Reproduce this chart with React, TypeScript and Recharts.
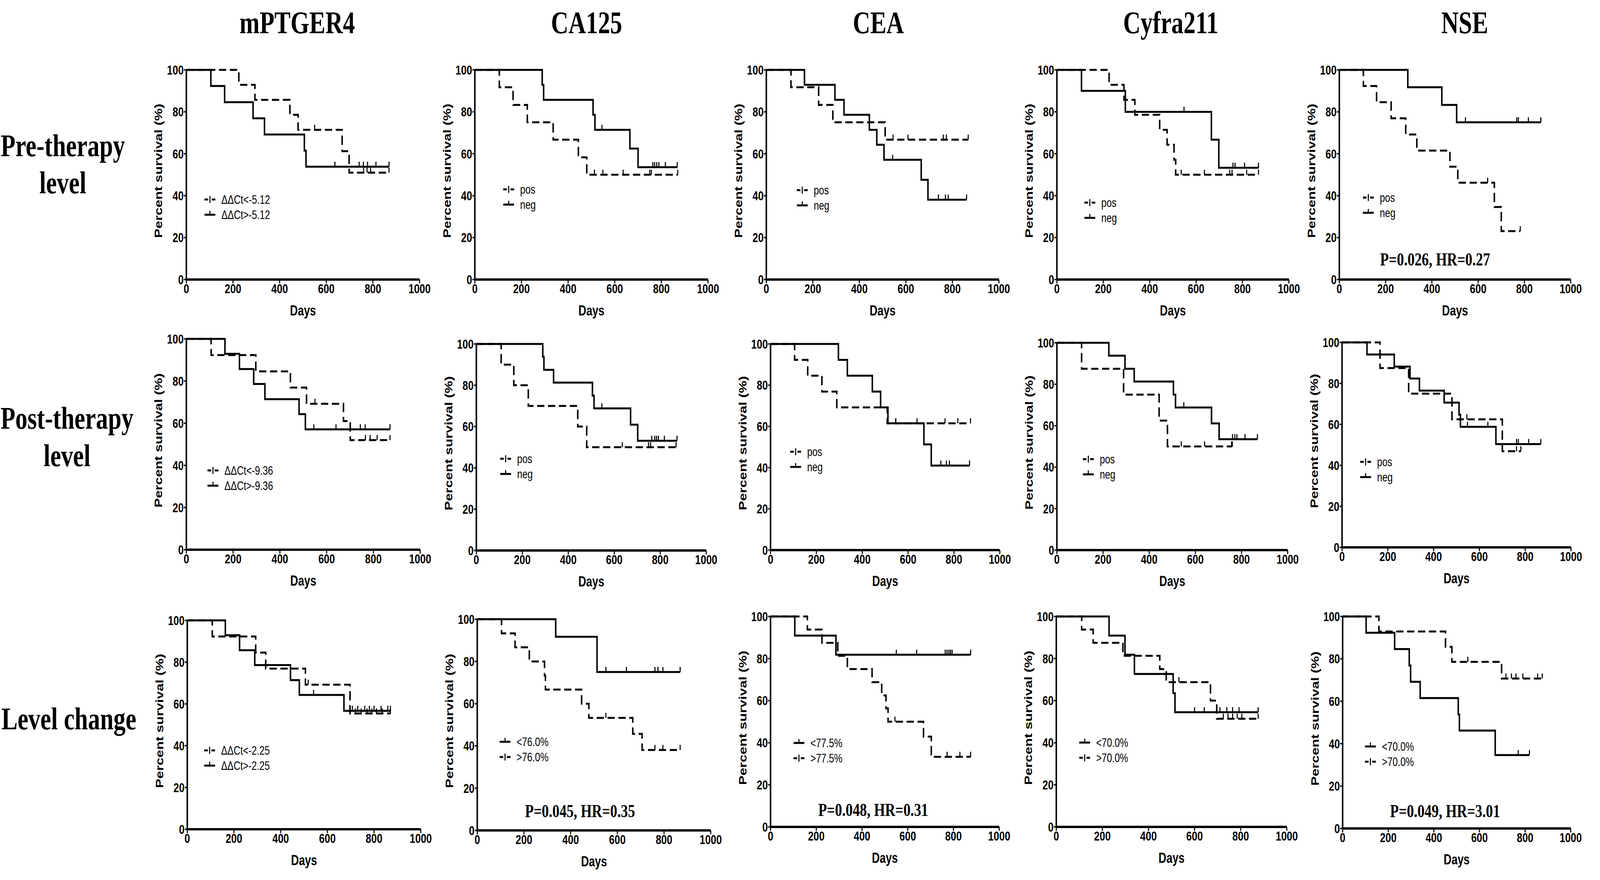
import React from 'react';
import { ComposedChart, Line, XAxis, YAxis, Label, Legend, ReferenceDot } from 'recharts';

// ---------- labels ----------
const markers = ['mPTGER4', 'CA125', 'CEA', 'Cyfra211', 'NSE'];
const rowLabels = [['Pre-therapy', 'level'], ['Post-therapy', 'level'], ['Level change']];
const xTicks = [0, 200, 400, 600, 800, 1000];
const yTicks = [0, 20, 40, 60, 80, 100];
const xTitle = 'Days';
const yTitle = 'Percent survival (%)';

// legend labels
const preM_labels = ['ΔΔCt<-5.12', 'ΔΔCt>-5.12'];
const postM_labels = ['ΔΔCt<-9.36', 'ΔΔCt>-9.36'];
const chgM_labels = ['ΔΔCt<-2.25', 'ΔΔCt>-2.25'];
const posneg_labels = ['pos', 'neg'];
const chgCA125_labels = ['<76.0%', '>76.0%'];
const chgCEA_labels = ['<77.5%', '>77.5%'];
const chgCyfra_labels = ['<70.0%', '>70.0%'];
const chgNSE_labels = ['<70.0%', '>70.0%'];

const pTexts = ['P=0.026, HR=0.27', 'P=0.045, HR=0.35', 'P=0.048, HR=0.31', 'P=0.049, HR=3.01'];

// ---------- survival curves: [days, survival%] events, [days, survival%, 1] censored ----------
// Row 1: pre-therapy
const preM_dash = [[225, 92.9], [294, 85.7], [444, 78.6], [479, 71.4], [550, 71.4, 1], [668, 61.2], [698, 51.0], [760, 51, 1], [775, 51, 1], [790, 51, 1], [869, 51, 1]];
const preM_solid = [[105, 92.3], [164, 84.6], [286, 76.9], [335, 69.2], [506, 61.5], [513, 53.8], [637, 53.8, 1], [741, 53.8, 1], [759, 53.8, 1], [777, 53.8, 1], [813, 53.8, 1], [869, 53.8, 1]];
const preCA_dash = [[105, 91.7], [164, 83.3], [225, 75.0], [336, 66.7], [444, 58.3], [480, 50.0], [513, 50, 1], [549, 50, 1], [636, 50, 1], [750, 50, 1], [757, 50, 1], [870, 50, 1]];
const preCA_solid = [[289, 92.9], [295, 85.7], [507, 78.6], [515, 71.4], [545, 71.4, 1], [665, 62.5], [700, 53.6], [763, 53.6, 1], [771, 53.6, 1], [780, 53.6, 1], [789, 53.6, 1], [817, 53.6, 1], [868, 53.6, 1]];
const preCEA_dash = [[106, 91.7], [225, 83.3], [286, 75.0], [511, 66.7], [545, 66.7, 1], [609, 66.7, 1], [761, 66.7, 1], [774, 66.7, 1], [868, 66.7, 1]];
const preCEA_solid = [[164, 92.9], [295, 85.7], [334, 78.6], [443, 71.4], [475, 64.3], [506, 57.1], [543, 57.1, 1], [666, 47.6], [695, 38.1], [740, 38.1, 1], [770, 38.1, 1], [782, 38.1, 1], [861, 38.1, 1]];
const preCy_dash = [[225, 92.9], [289, 85.7], [336, 78.6], [443, 71.4], [475, 64.3], [505, 57.1], [512, 50.0], [536, 50, 1], [636, 50, 1], [745, 50, 1], [755, 50, 1], [818, 50, 1], [869, 50, 1]];
const preCy_solid = [[106, 90], [295, 80], [548, 80, 1], [666, 66.7], [698, 53.3], [759, 53.3, 1], [768, 53.3, 1], [809, 53.3, 1], [869, 53.3, 1]];
const preNSE_dash = [[104, 92.3], [161, 84.6], [224, 76.9], [287, 69.2], [335, 61.5], [478, 53.8], [512, 46.2], [641, 46.2, 1], [670, 34.6], [700, 23.1], [782, 23.1, 1]];
const preNSE_solid = [[296, 91.7], [443, 83.3], [507, 75.0], [545, 75, 1], [767, 75, 1], [774, 75, 1], [817, 75, 1], [871, 75, 1]];

// Row 2: post-therapy
const postM_dash = [[106, 92.3], [297, 84.6], [445, 76.9], [514, 69.2], [550, 69.2, 1], [672, 61.0], [701, 52.0], [766, 52, 1], [786, 52, 1], [816, 52, 1], [871, 52, 1]];
const postM_solid = [[165, 92.9], [227, 85.7], [288, 78.6], [336, 71.4], [482, 64.3], [509, 57.1], [545, 57.1, 1], [640, 57.1, 1], [744, 57.1, 1], [765, 57.1, 1], [871, 57.1, 1]];
const postCA_dash = [[108, 90], [163, 80], [226, 70], [441, 60], [480, 50], [635, 50, 1], [749, 50, 1], [758, 50, 1], [869, 50, 1]];
const postCA_solid = [[289, 93.8], [294, 87.5], [336, 81.3], [505, 75], [512, 68.8], [546, 68.8, 1], [671, 60.9], [702, 53.1], [763, 53.1, 1], [776, 53.1, 1], [784, 53.1, 1], [792, 53.1, 1], [818, 53.1, 1], [873, 53.1, 1]];
const postCEA_dash = [[105, 92.3], [162, 84.6], [224, 76.9], [289, 69.2], [509, 61.5], [546, 61.5, 1], [761, 61.5, 1], [817, 61.5, 1], [872, 61.5, 1]];
const postCEA_solid = [[296, 92.3], [335, 84.6], [444, 76.9], [480, 69.2], [512, 61.5], [546, 61.5, 1], [639, 61.5, 1], [669, 51.3], [701, 41.0], [743, 41, 1], [767, 41, 1], [780, 41, 1], [868, 41, 1]];
const postCy_dash = [[107, 87.5], [289, 75], [443, 62.5], [479, 50], [539, 50, 1], [640, 50, 1], [757, 50, 1], [760, 50, 1]];
const postCy_solid = [[225, 93.8], [295, 87.5], [335, 81.3], [505, 75], [514, 68.8], [550, 68.8, 1], [670, 61.1], [703, 53.5], [761, 53.5, 1], [771, 53.5, 1], [780, 53.5, 1], [815, 53.5, 1], [869, 53.5, 1]];
const postNSE_dash = [[166, 87.5], [291, 75], [480, 62.5], [545, 62.5, 1], [700, 46.9], [762, 46.9, 1], [781, 46.9, 1]];
const postNSE_solid = [[109, 94.1], [228, 88.2], [297, 82.4], [338, 76.5], [446, 70.6], [511, 64.7], [517, 58.8], [548, 58.8, 1], [637, 58.8, 1], [672, 50.4], [762, 50.4, 1], [770, 50.4, 1], [815, 50.4, 1], [868, 50.4, 1]];

// Row 3: level change
const chgM_dash = [[107, 92.3], [293, 84.6], [336, 76.9], [506, 69.2], [518, 69.2, 1], [697, 55.4], [720, 55.4, 1], [745, 55.4, 1], [770, 55.4, 1], [790, 55.4, 1], [810, 55.4, 1], [835, 55.4, 1], [870, 55.4, 1]];
const chgM_solid = [[163, 92.9], [224, 85.7], [289, 78.6], [442, 71.4], [480, 64.3], [541, 64.3, 1], [671, 56.7], [707, 56.7, 1], [730, 56.7, 1], [760, 56.7, 1], [780, 56.7, 1], [800, 56.7, 1], [830, 56.7, 1], [859, 56.7, 1], [870, 56.7, 1]];
const chgCA_solid = [[336, 91.7], [513, 75], [551, 75, 1], [639, 75, 1], [761, 75, 1], [774, 75, 1], [795, 75, 1], [869, 75, 1]];
const chgCA_dash = [[104, 93.3], [162, 86.7], [223, 80], [288, 73.3], [292, 66.7], [447, 60], [478, 53.3], [551, 53.3, 1], [666, 45.7], [706, 38.1], [761, 38.1, 1], [795, 38.1, 1], [869, 38.1, 1]];
const chgCEA_solid = [[106, 90.9], [286, 81.8], [550, 81.8, 1], [639, 81.8, 1], [764, 81.8, 1], [772, 81.8, 1], [780, 81.8, 1], [787, 81.8, 1], [794, 81.8, 1], [875, 81.8, 1]];
const chgCEA_dash = [[161, 93.8], [225, 87.5], [294, 81.3], [336, 75], [444, 68.8], [486, 62.5], [505, 56.3], [514, 50], [544, 50, 1], [669, 42.9], [703, 33.3], [772, 33.3, 1], [828, 33.3, 1], [875, 33.3, 1]];
const chgCy_solid = [[229, 90.9], [298, 81.8], [339, 72.7], [507, 63.6], [515, 54.5], [600, 54.5, 1], [642, 54.5, 1], [710, 54.5, 1], [740, 54.5, 1], [765, 54.5, 1], [793, 54.5, 1], [876, 54.5, 1]];
const chgCy_dash = [[110, 93.8], [160, 87.5], [289, 81.3], [449, 75], [477, 68.8], [532, 68.8, 1], [669, 60], [696, 51.4], [725, 51.4, 1], [745, 51.4, 1], [765, 51.4, 1], [785, 51.4, 1], [805, 51.4, 1], [876, 51.4, 1]];
const chgNSE_solid = [[103, 92.3], [228, 84.6], [292, 76.9], [298, 69.2], [340, 61.5], [507, 53.8], [512, 46.2], [669, 34.6], [770, 34.6, 1], [819, 34.6, 1]];
const chgNSE_dash = [[159, 92.9], [451, 85.7], [479, 78.6], [549, 78.6, 1], [697, 70.7], [716, 70.7, 1], [740, 70.7, 1], [760, 70.7, 1], [790, 70.7, 1], [855, 70.7, 1], [875, 70.7, 1]];

// ---------- layout ----------
const PAGE_W = 5297;
const PAGE_H = 2254;
const SANS = '"Liberation Sans", Arial, Helvetica, sans-serif';
const SERIF = '"Liberation Serif", "Times New Roman", Times, serif';

const ML = 150; // plot left inside chart
const MT = 30; // plot top inside chart
const MR = 40;
const XH = 110;
const MB = 10;

type Item = { label: string; dashed: boolean };
type Panel = {
  left: number; top: number; w: number; h: number;
  curves: { pts: number[][]; dashed: boolean }[];
  legend: Item[]; lx: number; ly: number;
  p?: { text: string; x: number; y: number };
};

const D = (label: string): Item => ({ label, dashed: true });
const S = (label: string): Item => ({ label, dashed: false });

const panels: Panel[] = [
  // row 1
  { left: 617, top: 179, w: 772, h: 537, curves: [{ pts: preM_dash, dashed: true }, { pts: preM_solid, dashed: false }], legend: [D(preM_labels[0]), S(preM_labels[1])], lx: 60, ly: 332 },
  { left: 1572, top: 179, w: 772, h: 537, curves: [{ pts: preCA_dash, dashed: true }, { pts: preCA_solid, dashed: false }], legend: [D(posneg_labels[0]), S(posneg_labels[1])], lx: 94, ly: 306 },
  { left: 2537, top: 179, w: 770, h: 537, curves: [{ pts: preCEA_dash, dashed: true }, { pts: preCEA_solid, dashed: false }], legend: [D(posneg_labels[0]), S(posneg_labels[1])], lx: 101, ly: 308 },
  { left: 3499, top: 179, w: 768, h: 537, curves: [{ pts: preCy_dash, dashed: true }, { pts: preCy_solid, dashed: false }], legend: [D(posneg_labels[0]), S(posneg_labels[1])], lx: 91, ly: 340 },
  { left: 4434, top: 179, w: 766, h: 537, curves: [{ pts: preNSE_dash, dashed: true }, { pts: preNSE_solid, dashed: false }], legend: [D(posneg_labels[0]), S(posneg_labels[1])], lx: 78, ly: 327, p: { text: pTexts[0], x: 414, y: 9.8 } },
  // row 2
  { left: 617, top: 868, w: 774, h: 540, curves: [{ pts: postM_dash, dashed: true }, { pts: postM_solid, dashed: false }], legend: [D(postM_labels[0]), S(postM_labels[1])], lx: 70, ly: 337 },
  { left: 1577, top: 881, w: 761, h: 529, curves: [{ pts: postCA_dash, dashed: true }, { pts: postCA_solid, dashed: false }], legend: [D(posneg_labels[0]), S(posneg_labels[1])], lx: 79, ly: 294 },
  { left: 2551, top: 881, w: 759, h: 528, curves: [{ pts: postCEA_dash, dashed: true }, { pts: postCEA_solid, dashed: false }], legend: [D(posneg_labels[0]), S(posneg_labels[1])], lx: 65, ly: 276 },
  { left: 3499, top: 878, w: 764, h: 531, curves: [{ pts: postCy_dash, dashed: true }, { pts: postCy_solid, dashed: false }], legend: [D(posneg_labels[0]), S(posneg_labels[1])], lx: 86, ly: 298 },
  { left: 4443, top: 877, w: 758, h: 525, curves: [{ pts: postNSE_dash, dashed: true }, { pts: postNSE_solid, dashed: false }], legend: [D(posneg_labels[0]), S(posneg_labels[1])], lx: 60, ly: 306 },
  // row 3
  { left: 620, top: 1589, w: 773, h: 535, curves: [{ pts: chgM_dash, dashed: true }, { pts: chgM_solid, dashed: false }], legend: [D(chgM_labels[0]), S(chgM_labels[1])], lx: 56, ly: 333 },
  { left: 1580, top: 1586, w: 773, h: 541, curves: [{ pts: chgCA_dash, dashed: true }, { pts: chgCA_solid, dashed: false }], legend: [S(chgCA125_labels[0]), D(chgCA125_labels[1])], lx: 74, ly: 314, p: { text: pTexts[1], x: 440, y: 9.3 } },
  { left: 2551, top: 1579, w: 757, h: 539, curves: [{ pts: chgCEA_dash, dashed: true }, { pts: chgCEA_solid, dashed: false }], legend: [S(chgCEA_labels[0]), D(chgCEA_labels[1])], lx: 76, ly: 324, p: { text: pTexts[2], x: 449, y: 8.3 } },
  { left: 3497, top: 1579, w: 763, h: 539, curves: [{ pts: chgCy_dash, dashed: true }, { pts: chgCy_solid, dashed: false }], legend: [S(chgCyfra_labels[0]), D(chgCyfra_labels[1])], lx: 76, ly: 323 },
  { left: 4445, top: 1579, w: 755, h: 543, curves: [{ pts: chgNSE_dash, dashed: true }, { pts: chgNSE_solid, dashed: false }], legend: [S(chgNSE_labels[0]), D(chgNSE_labels[1])], lx: 74, ly: 333, p: { text: pTexts[3], x: 449, y: 8.5 } },
];

const titleX = [984, 1942, 2908, 3876, 4849];
const titleBaseline = 85;
const rowLabelPos = [
  { x: 208, ys: [400, 495] },
  { x: 222, ys: [1098, 1194] },
  { x: 228, ys: [1868] },
];

function toSeries(pts: number[][]) {
  const out = [{ t: 0, s: 100, c: 0 }];
  pts.forEach((p) => out.push({ t: p[0], s: p[1], c: p[2] ? 1 : 0 }));
  return out;
}

const censorDot = (props: any) => {
  const { cx, cy, payload, index } = props;
  if (!payload || !payload.c || cx == null || cy == null) return <g key={`d${index}`} />;
  return <line key={`d${index}`} x1={cx} y1={cy} x2={cx} y2={cy - 13} stroke="#000" strokeWidth={3.5} />;
};

function LegendBox({ items }: { items: Item[] }) {
  return (
    <svg width={440} height={100} style={{ display: 'block', overflow: 'visible' }}>
      {items.map((it, i) => {
        const y = 20 + i * 39;
        return (
          <g key={i}>
            <line x1={0} x2={36} y1={y} y2={y} stroke="#000" strokeWidth={5} strokeDasharray={it.dashed ? '12 12' : undefined} />
            <line x1={18} x2={18} y1={it.dashed ? y - 9 : y - 10} y2={it.dashed ? y + 9 : y} stroke="#000" strokeWidth={3.5} />
            <text x={56} y={y} dominantBaseline="central" fontFamily={SANS} fontSize={31} fill="#000">{it.label}</text>
          </g>
        );
      })}
    </svg>
  );
}

function KMPanel({ pn }: { pn: Panel }) {
  const cw = ML + pn.w + MR;
  const ch = MT + pn.h + XH + MB;
  const tickStyle = { fontSize: 33, fontFamily: SANS, fontWeight: 'bold', fill: '#000' } as any;
  return (
    <div style={{ position: 'absolute', left: pn.left - ML, top: pn.top - MT, width: cw, height: ch }}>
      <ComposedChart width={cw} height={ch} margin={{ top: MT, right: MR, bottom: MB, left: ML - 130 }}>
        <XAxis
          type="number" dataKey="t" domain={[0, 1000]} ticks={xTicks} interval={0} height={XH}
          axisLine={{ stroke: '#000', strokeWidth: 6 }} tickLine={{ stroke: '#000', strokeWidth: 3.5 }}
          tickSize={10} tickMargin={2} tick={tickStyle}
        >
          <Label
            content={() => (
              <text x={ML + pn.w / 2} y={MT + pn.h + 80} textAnchor="middle" dominantBaseline="central" fontFamily={SANS} fontWeight="bold" fontSize={36} fill="#000">{xTitle}</text>
            )}
          />
        </XAxis>
        <YAxis
          type="number" domain={[0, 100]} ticks={yTicks} interval={0} width={130}
          axisLine={{ stroke: '#000', strokeWidth: 5 }} tickLine={{ stroke: '#000', strokeWidth: 3.5 }}
          tickSize={8} tickMargin={1} tick={tickStyle}
        >
          <Label
            content={() => {
              const x = ML - 92;
              const y = MT + pn.h / 2 - 10;
              return (
                <text x={x} y={y} transform={`rotate(-90 ${x} ${y})`} textAnchor="middle" dominantBaseline="central" fontFamily={SANS} fontWeight="bold" fontSize={36} fill="#000">{yTitle}</text>
              );
            }}
          />
        </YAxis>
        {pn.curves.map((c, i) => (
          <Line
            key={i} data={toSeries(c.pts)} dataKey="s" type="stepAfter" stroke="#000" strokeWidth={5}
            strokeDasharray={c.dashed ? '24 12' : undefined} dot={censorDot} activeDot={false}
            isAnimationActive={false} legendType="none"
          />
        ))}
        {pn.p && (
          <ReferenceDot
            x={pn.p.x} y={pn.p.y} r={1} fill="none" stroke="none"
            label={{ value: pn.p.text, position: 'center', fontFamily: SERIF, fontWeight: 'bold', fontSize: 47, fill: '#000' }}
          />
        )}
        <Legend
          layout="horizontal" verticalAlign="middle" align="center"
          wrapperStyle={{ left: ML + pn.lx, top: MT + pn.ly - 20, width: 440, height: 100 }}
          content={() => <LegendBox items={pn.legend} />}
        />
      </ComposedChart>
    </div>
  );
}

function getScale() {
  if (typeof window === 'undefined') return { sx: 1, sy: 1 };
  const w = window.innerWidth || PAGE_W;
  const h = window.innerHeight || PAGE_H;
  return { sx: Math.min(1, w / PAGE_W), sy: Math.min(1, h / PAGE_H) };
}

export default function App() {
  const [sc, setSc] = React.useState(getScale);
  React.useEffect(() => {
    document.body.style.margin = '0';
    document.body.style.overflow = 'hidden';
    const f = () => setSc(getScale());
    f();
    window.addEventListener('resize', f);
    return () => window.removeEventListener('resize', f);
  }, []);
  return (
    <div style={{ position: 'absolute', left: 0, top: 0, width: PAGE_W * sc.sx, height: PAGE_H * sc.sy, overflow: 'hidden', background: '#fff' }}>
      <div style={{ position: 'absolute', left: 0, top: 0, width: PAGE_W, height: PAGE_H, transform: `scale(${sc.sx}, ${sc.sy})`, transformOrigin: '0 0' }}>
        <svg style={{ position: 'absolute', left: 0, top: 0 }} width={PAGE_W} height={PAGE_H}>
          {markers.map((m, i) => (
            <text key={m} x={titleX[i]} y={titleBaseline} textAnchor="middle" fontFamily={SERIF} fontWeight="bold" fontSize={80} fill="#000">{m}</text>
          ))}
          {rowLabels.map((lines, r) =>
            lines.map((ln, j) => (
              <text key={`${r}-${j}`} x={rowLabelPos[r].x} y={rowLabelPos[r].ys[j]} textAnchor="middle" fontFamily={SERIF} fontWeight="bold" fontSize={80} fill="#000">{ln}</text>
            ))
          )}
        </svg>
        {panels.map((pn, i) => (
          <KMPanel key={i} pn={pn} />
        ))}
      </div>
    </div>
  );
}
